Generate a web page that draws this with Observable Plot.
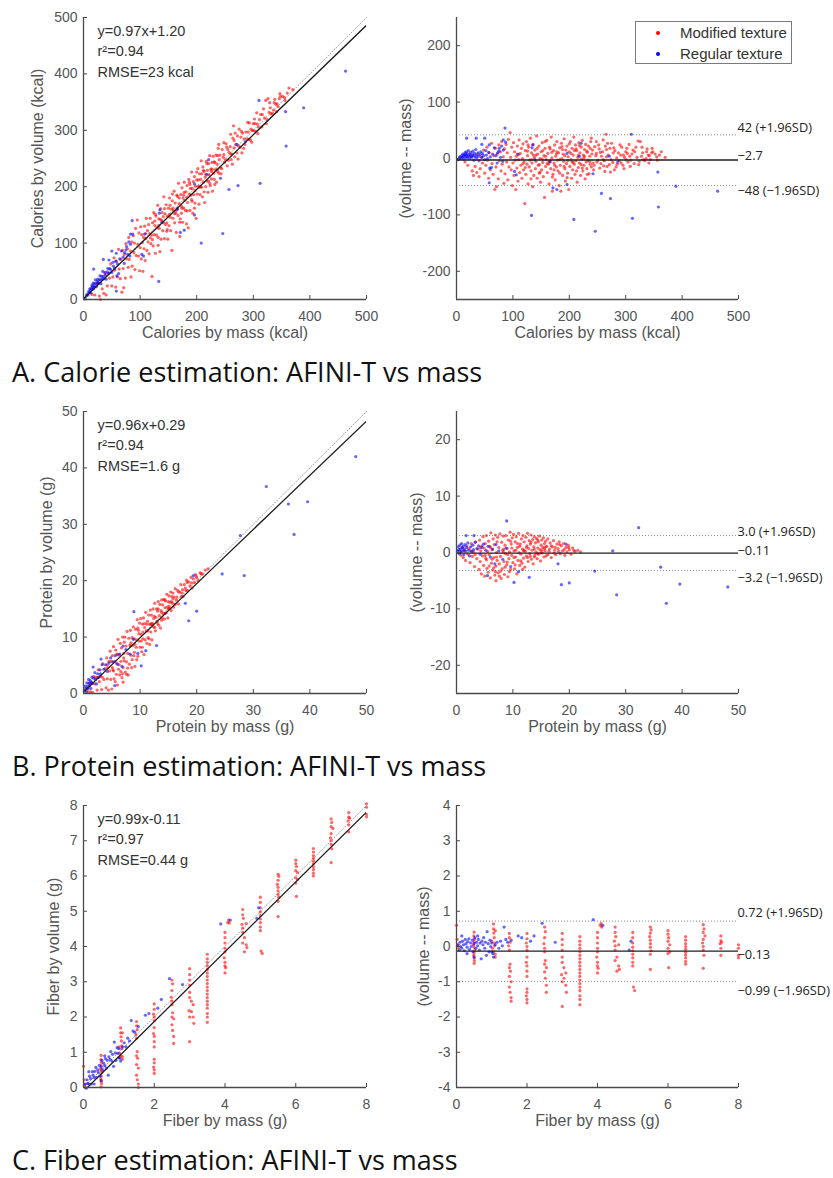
<!DOCTYPE html>
<html><head><meta charset="utf-8">
<script src="https://cdn.jsdelivr.net/npm/d3@7"></script>
<script src="https://cdn.jsdelivr.net/npm/@observablehq/plot@0.6"></script>
<style>
body{margin:0;background:#fff;width:833px;height:1178px;position:relative;overflow:hidden}
.panel{position:absolute}
.panel svg{overflow:visible;display:block}
.title{position:absolute;left:12px;font-family:"Open Sans",sans-serif;font-size:27px;line-height:32px;color:#111;white-space:nowrap}
.legend{position:absolute;border:1px solid #7a7a7a;background:#fff;font-family:"Liberation Sans",Arial,sans-serif;font-size:15px;color:#333}
.legend .row{position:absolute;left:0;height:20px;line-height:20px;white-space:nowrap}
.legend .sw{position:absolute;left:20px;top:8px;width:4px;height:4px;border-radius:50%}
.legend .lab{position:absolute;left:44px}
</style></head><body>
<script>
// ---------- DATA ----------
// Calories: [mass kcal, volume - mass kcal]
const calModified = [
[15,-6],[20,-12],[24,4],[28,-22],[30,-30],[33,-14],[36,-25],[38,8],[40,-32],[42,-18],[44,2],[46,-8],[48,15],[50,-26],[52,-12],[54,20],[55,-3],[57,-35],[58,10],[60,-20],
[62,27],[63,-9],[65,-28],[66,5],[68,-55],[69,18],[70,-15],[71,-50],[72,8],[74,-36],[75,24],[76,-4],[78,12],[79,-22],[80,30],[81,-10],[83,3],[84,-44],[85,17],[86,-27],[88,25],[89,-6],[90,10],[91,-38],[92,34],[93,-15],[95,46],[96,2],[97,-20],[98,20],[99,-48],
[100,-8],[101,28],[102,-30],[103,12],[105,-55],[106,4],[107,-17],[108,22],[109,-40],[110,-2],[111,33],[112,-25],[113,9],[114,-12],[115,18],[116,-35],[117,0],[118,26],[119,-20],[120,-6],[121,-80],[122,14],[123,-28],[124,30],[125,-10],[126,5],[127,-45],[128,20],[129,-15],[130,-3],[131,36],[132,-22],[133,10],[134,-8],[135,-50],[136,25],[137,-30],[138,2],[139,15],[140,-18],[141,-5],[142,40],[143,-35],[144,8],[145,-12],[146,22],[147,-26],[148,0],[149,-42],[150,12],
[151,-20],[152,28],[153,-7],[154,-32],[155,5],[156,-69],[157,18],[158,-14],[159,-2],[160,32],[161,-25],[162,9],[163,-10],[164,-45],[165,20],[166,-4],[167,-18],[168,38],[169,1],[170,-58],[171,-28],[172,14],[173,-8],[174,24],[175,-38],[176,4],[177,-15],[178,30],[179,-3],[180,-22],[181,10],[182,-48],[183,19],[184,-12],[185,-58],[186,27],[187,0],[188,-30],[189,8],[190,-5],[191,35],[192,-18],[193,-40],[194,15],[195,-9],[196,22],[197,-26],[198,3],[199,-55],[200,12],
[201,-14],[202,30],[203,-2],[204,-35],[205,18],[206,-20],[207,6],[208,38],[209,-10],[210,-28],[211,24],[212,-4],[213,14],[214,-42],[215,2],[216,-16],[217,28],[218,-8],[219,10],[220,-30],[221,20],[222,-1],[223,32],[224,-22],[225,6],[226,-12],[227,16],[228,-36],[229,25],[230,-6],[231,-18],[232,11],[233,-3],[234,22],[235,-27],[236,4],[237,-10],[238,30],[239,-15],[240,8],
[104,-3],[110,7],[118,-9],[126,13],[133,-2],[141,6],[147,-11],[153,14],[158,4],[164,-6],[169,11],[173,-20],[177,8],[183,-2],[188,16],[192,5],[197,-4],[203,9],[207,-7],[212,17],[216,6],[221,-11],[226,1],[231,13],[236,-5],[241,15],[244,-12],[247,5],[251,-3],[253,17],[256,-9],[259,12],[262,-4],[264,22],[267,-14],[269,6],[272,18],[274,-2],[277,-7],[281,14],[283,-15],[287,10],[289,-4],[293,20],[295,-12],[298,2],[300,12],[304,-6],[306,25],[309,-3],[311,8],[315,-9],[318,20],[320,2],[324,-5],[326,30],[330,10],[334,-4],[338,17],[342,5],[344,-2],[348,12],[352,8],[355,3],[360,6],
[239,36],[248,30],[260,33],[265,43],[275,27],[290,24],[302,18],[313,15],[322,31],[337,12],[346,10],[370,2],[242,-8],[254,-17],[263,-23],[271,-11],[280,-20],[292,-8],[301,-2],[248,9],[257,4],[266,16],[278,10],[284,1],[296,6],[307,4],[328,4],[331,-2],[340,6],[245,21],[252,24],[268,27],[260,-2],
[122,-16],[127,24],[132,-36],[136,6],[143,18],[148,-24],[152,-1],[157,30],[161,-9],[166,17],[170,-33],[174,-12],[178,12],[183,-26],[187,21],[191,-14],[196,-34],[200,26],[205,-6],[209,14],[213,-22],[218,23],[223,-17],[227,4],[232,-28],[237,18],[243,-20],[249,-6],[255,11],[261,-13],[266,3],[273,-24],[279,19],[285,-10],[291,6],[297,-18],[303,9],[308,-14],[316,12],[323,-11],[329,20],[336,0],[341,-8],[347,18],[356,-3],[363,12]
];
const calRegular = [
[3,-2],[5,1],[6,3],[8,0],[9,5],[10,2],[11,8],[12,4],[13,-1],[14,6],[15,10],[15,3],[16,7],[17,12],[18,1],[18,5],[19,9],[20,3],[21,14],[22,6],[23,0],[24,8],[25,11],[26,4],[27,2],[28,7],[29,13],[30,5],[31,-3],[32,9],[33,3],[34,16],[35,6],[36,1],[38,10],[39,4],[40,-4],[42,7],[43,12],[45,2],[46,9],[48,5],[50,-2],[52,14],[53,6],[55,0],[57,11],[60,3],[62,-16],[64,8],[67,19],[70,5],[72,-8],[75,13],[78,2],[80,22],[82,-5],
[18,36],[35,36],[50,36],[45,25],[58,24],[59,-17],[58,-43],[86,54],[83,33],[87,29],[83,15],[73,10],[76,18],[103,-23],[106,-29],[108,8],[133,-101],[134,19],[135,24],[139,-2],[166,-6],[171,-52],[178,-55],[196,-46],[196,9],[208,-108],[218,4],[221,27],[242,-27],[246,-129],[257,-62],[273,-71],[271,4],[286,-6],[310,43],[312,-106],[357,-24],[358,-86],[389,-49],[463,-58]
];
const calTicks = [0, 100, 200, 300, 400, 500];
const calDiffTicks = [-200, -100, 0, 100, 200];
const calFit = {slope: 0.97, intercept: 1.20};
const calStats = ["y=0.97x+1.20", "r²=0.94", "RMSE=23 kcal"];
const calLimits = {upper: 42, mean: -2.7, lower: -48};
const calLimitLabels = ["42 (+1.96SD)", "−2.7", "−48 (−1.96SD)"];

// Protein: [mass g, volume - mass g]
const proModified = [
[0.6,0.2],[0.8,-0.5],[1.0,0.9],[1.2,-0.9],[1.4,0.4],[1.6,-1.4],[1.8,1.2],[2.0,-0.3],[2.2,0.7],[2.4,-1.8],[2.6,1.6],[2.8,-0.7],[3.0,0.1],[3.2,-2.5],[3.4,1.9],[3.6,-1.1],[3.8,0.6],[4.0,-3.0],
[4.1,2.2],[4.2,-1.6],[4.3,0.3],[4.4,-3.8],[4.5,1.2],[4.6,-0.6],[4.7,2.8],[4.8,-2.3],[4.9,0.8],[5.0,-4.2],[5.1,1.6],[5.2,-1.0],[5.3,3.0],[5.4,-2.8],[5.5,0.2],[5.6,-3.5],[5.7,2.0],[5.8,-0.4],[5.9,1.1],[6.0,-4.5],[6.1,3.5],[6.2,-1.9],[6.3,0.5],[6.4,-3.1],[6.5,2.4],[6.6,-0.9],[6.7,1.4],[6.8,-4.0],[6.9,3.1],[7.0,-2.4],[7.0,-5.0],[7.1,0.0],[7.2,-1.4],[7.3,2.7],[7.4,-3.6],[7.5,0.9],[7.6,-2.0],[7.7,3.3],[7.8,-0.7],[7.9,-4.6],[8.0,1.8],[8.1,-2.9],[8.2,0.4],[8.3,2.9],[8.4,-1.6],[8.5,-3.9],[8.6,1.3],[8.7,-0.2],[8.8,3.0],[8.9,-2.2],[9.0,0.7],[9.1,-4.3],[9.2,2.2],[9.3,-1.1],[9.4,0.1],[9.5,3.6],[9.6,-3.0],[9.7,1.5],[9.8,-0.5],[9.9,2.6],
[10.0,-1.8],[10.1,3.2],[10.2,0.3],[10.3,-2.9],[10.4,1.9],[10.5,-0.8],[10.6,2.8],[10.7,-3.8],[10.8,0.9],[10.9,-1.4],[11.0,3.4],[11.1,0.0],[11.2,-2.3],[11.3,1.5],[11.4,-0.3],[11.5,2.4],[11.6,-1.9],[11.7,0.6],[11.8,3.0],[11.9,-1.0],[12.0,1.9],[12.1,-2.6],[12.2,0.2],[12.3,2.7],[12.4,-0.6],[12.5,1.2],[12.6,3.4],[12.7,-1.6],[12.8,0.7],[12.9,2.1],[13.0,-0.2],[13.1,1.5],[13.2,3.1],[13.3,-1.2],[13.4,0.4],[13.5,2.3],[13.6,-2.0],[13.7,1.0],[13.8,2.8],[13.9,-0.5],[14.0,1.7],[14.1,0.1],[14.2,2.5],[14.3,-1.1],[14.4,0.8],[14.5,1.9],[14.6,-0.3],[14.7,2.9],[14.8,0.5],[14.9,-1.5],[15.0,1.3],[15.1,2.2],[15.2,-0.1],[15.3,0.9],[15.4,2.6],[15.5,-0.8],[15.6,1.6],[15.7,0.3],[15.8,2.0],[15.9,-0.6],
[16.0,1.1],[16.2,2.4],[16.4,0.2],[16.6,1.7],[16.8,-0.9],[17.0,1.0],[17.2,2.1],[17.4,0.4],[17.6,-0.4],[17.8,1.5],[18.0,0.7],[18.2,1.9],[18.4,-0.2],[18.6,1.2],[18.8,0.3],[19.0,1.6],[19.2,-0.5],[19.4,0.9],[19.6,0.1],[19.8,1.3],[20.0,0.5],[20.3,-0.3],[20.6,0.8],[21.0,0.2],[21.5,0.4],[22.0,0.1],
[8.3,0.1],[9.1,-0.4],[9.8,0.8],[10.5,0.4],[11.2,1.1],[11.9,0.3],[12.4,0.9],[13.1,-0.7],[13.8,0.6],[14.4,-0.2],[15.1,0.4],[15.8,1.0],[16.5,0.6],[17.3,-0.1],[18.1,0.2],[6.3,-1.2],[7.1,-0.8],[5.1,-0.5],[4.2,0.9],[3.3,-0.4],[2.5,0.3],
[5.3,-1.3],[6.0,0.9],[6.6,-2.7],[7.2,1.9],[7.8,-3.3],[8.4,0.6],[9.0,-1.7],[9.6,2.0],[10.2,-0.9],[10.8,1.6],[11.4,-1.5],[12.0,0.4],[12.6,-0.9],[13.2,1.8],[13.8,-0.8],[14.4,2.2],[15.0,0.0],[15.6,0.7],[16.2,-0.4],[16.8,1.2],[17.5,0.9],[18.3,1.4],[19.1,0.5],[19.9,0.9],[20.8,0.4],[5.8,-2.4],[6.9,-3.4],[7.6,-4.2],[8.6,-2.6],[9.4,-3.4],[10.4,-2.2],[11.7,-3.0]
];
const proRegular = [
[0.2,0.3],[0.3,1.0],[0.4,0.5],[0.5,-0.2],[0.6,1.3],[0.7,0.6],[0.8,0.1],[0.9,1.6],[1.0,0.8],[1.1,0.3],[1.2,1.1],[1.3,-0.4],[1.4,0.6],[1.5,1.4],[1.6,0.2],[1.8,0.9],[2.0,1.7],[2.1,0.4],[2.3,-0.6],[2.5,1.0],[2.7,0.2],[2.9,1.3],[3.0,0.5],[3.3,1.8],[3.6,0.7],[3.9,1.2],[4.2,-0.3],[4.5,0.9],[4.8,1.5],[5.2,0.4],[5.6,1.1],[6.0,-0.8],[6.4,0.6],[7.0,1.4],[7.5,0.3],[8.2,-1.2],[8.8,0.8],
[1.7,3.0],[3.1,3.0],[8.9,5.6],[32.3,4.4],[27.7,0.3],[19.4,1.5],[18.0,-2.0],[10.2,-5.3],[9.6,-2.5],[11.0,-3.4],[12.9,-4.4],[5.5,-4.1],[6.8,-2.0],[18.6,-5.7],[20.0,-5.4],[24.5,-3.3],[28.4,-7.5],[36.2,-2.6],[37.2,-9.0],[39.6,-5.6],[48.1,-6.1]
];
const proTicks = [0, 10, 20, 30, 40, 50];
const proDiffTicks = [-20, -10, 0, 10, 20];
const proFit = {slope: 0.96, intercept: 0.29};
const proStats = ["y=0.96x+0.29", "r²=0.94", "RMSE=1.6 g"];
const proLimits = {upper: 3.0, mean: -0.11, lower: -3.2};
const proLimitLabels = ["3.0 (+1.96SD)", "−0.11", "−3.2 (−1.96SD)"];

// Fiber: [mass g, volume - mass g]
const fibModified = [
[0.0,0.6],[0.02,0.2],[0.03,0.05],[0.05,-0.05],
[0.5,0.41],[0.49,0.3],[0.51,0.2],[0.5,0.12],[0.48,0.05],[0.5,-0.02],[0.52,-0.1],[0.5,-0.18],[0.49,-0.25],[0.5,-0.32],[0.51,-0.4],[0.5,-0.48],
[1.0,0.15],[1.02,-0.05],[1.05,0.64],[1.05,0.5],[1.06,0.38],[1.07,0.25],[1.08,0.1],[1.05,-0.15],[1.1,-0.22],[1.1,-0.3],[1.08,0.02],[1.1,0.45],
[1.5,0.37],[1.5,0.25],[1.52,0.12],[1.48,0.02],[1.5,-0.1],[1.52,-0.5],[1.5,-0.6],[1.53,-0.7],[1.5,-0.85],[1.55,-1.0],[1.5,-1.15],[1.52,-1.3],[1.55,-1.45],[1.55,-1.55],
[2.0,0.37],[2.0,0.22],[1.98,0.1],[2.0,0.0],[2.0,-0.1],[2.0,-0.3],[1.98,-0.45],[2.0,-0.55],[2.0,-0.7],[2.0,-0.85],[2.0,-1.2],[2.0,-1.3],[1.98,-1.4],[2.0,-1.5],[2.0,-1.6],
[2.5,0.55],[2.52,0.42],[2.5,0.25],[2.48,0.08],[2.5,-0.05],[2.5,-0.15],[2.52,-0.4],[2.5,-0.5],[2.55,-0.6],[2.5,-0.72],[2.52,-0.9],[2.55,-1.1],[2.55,-1.3],
[3.0,0.37],[3.0,0.2],[3.0,0.05],[3.0,-0.1],[3.0,-0.3],[3.0,-0.45],[2.98,-0.8],[3.05,-0.9],[3.0,-1.0],[3.1,-0.75],[3.1,-1.1],[3.12,-1.3],[3.0,-1.7],[3.05,-0.6],
[3.5,0.28],[3.5,0.15],[3.5,0.05],[3.5,-0.05],[3.5,-0.15],[3.5,-0.25],[3.5,-0.35],[3.5,-0.45],[3.5,-0.55],[3.5,-0.65],[3.5,-0.75],[3.5,-0.85],[3.5,-0.95],[3.5,-1.05],[3.5,-1.15],[3.5,-1.25],[3.5,-1.4],[3.5,-1.5],[3.5,-1.65],
[4.0,0.4],[4.0,0.25],[4.0,0.1],[4.0,-0.05],[4.0,-0.15],[3.98,-0.3],[4.0,-0.45],[4.0,-0.55],[4.02,-0.62],[4.0,-0.75],[4.08,0.6],[4.1,0.65],[4.12,0.55],
[4.5,0.55],[4.5,0.4],[4.52,0.28],[4.48,0.15],[4.5,0.02],[4.5,-0.1],[4.55,-0.3],[4.5,-0.4],[4.6,-0.55],[4.62,-0.65],[4.55,-0.7],[4.6,0.05],
[5.0,0.4],[5.0,0.25],[5.0,0.1],[5.0,-0.02],[5.0,-0.12],[5.0,-0.22],[5.0,-0.32],[5.0,-0.45],[5.0,-0.55],[5.02,-1.15],[5.05,-1.25],
[5.5,0.55],[5.52,0.47],[5.5,0.38],[5.48,0.28],[5.5,0.18],[5.5,0.08],[5.5,-0.02],[5.52,-0.12],[5.5,-0.22],[5.5,-0.65],
[6.0,0.45],[6.0,0.35],[6.02,0.25],[6.0,0.15],[6.05,0.05],[6.0,-0.05],[6.05,-0.15],[6.0,-0.2],[6.02,-0.6],
[6.5,0.28],[6.5,0.18],[6.5,0.08],[6.5,0.0],[6.5,-0.08],[6.5,-0.16],[6.5,-0.24],[6.5,-0.32],[6.5,-0.42],[6.5,-0.5],
[7.0,0.62],[7.02,0.5],[7.0,0.4],[7.05,0.3],[7.0,0.2],[6.98,0.1],[7.0,0.0],[7.0,-0.1],[7.02,-0.25],[7.0,-0.62],
[7.5,0.3],[7.5,0.17],[7.52,0.12],[7.48,0.08],[7.5,-0.05],[7.5,-0.25],
[8.0,0.05],[8.0,-0.05],[8.0,-0.25],[8.0,-0.32]
];
const fibRegular = [
[0.05,0.05],[0.08,-0.1],[0.1,0.12],[0.12,0.0],[0.15,-0.05],[0.17,0.15],[0.2,0.05],[0.22,-0.12],[0.25,0.2],[0.27,0.08],[0.3,-0.02],[0.32,0.14],[0.35,0.22],[0.37,-0.08],[0.4,0.1],[0.42,0.0],[0.45,0.18],[0.47,-0.15],[0.5,0.08],[0.52,0.25],[0.55,-0.05],[0.57,0.12],[0.6,0.02],[0.62,0.2],[0.65,-0.1],[0.67,0.1],[0.7,-0.35],[0.72,0.15],[0.75,0.05],[0.77,0.25],[0.8,-0.05],[0.82,0.12],[0.85,-0.25],[0.87,0.42],[0.9,0.08],[0.92,-0.15],[0.95,0.18],[0.97,0.0],[1.0,0.1],[1.03,-0.2],[1.05,-0.3],[1.1,0.05],[1.15,0.12],[1.2,-0.05],[1.25,0.15],[1.3,0.02],[1.35,0.55],[1.4,0.2],[1.45,0.12],[1.55,0.18],[1.75,0.3],[1.85,0.25],[2.1,0.15],[2.2,0.3],[2.43,0.66],[2.8,0.12],[3.88,0.76],[4.15,0.6],[4.95,0.15],[4.9,-0.1],[1.0,-0.15],[0.15,0.3],[0.3,-0.2],[0.5,-0.3],[0.6,0.3]
];
const fibTicks = [0, 2, 4, 6, 8];
const fibYTicks = [0, 1, 2, 3, 4, 5, 6, 7, 8];
const fibDiffTicks = [-4, -3, -2, -1, 0, 1, 2, 3, 4];
const fibFit = {slope: 0.99, intercept: -0.11};
const fibStats = ["y=0.99x-0.11", "r²=0.97", "RMSE=0.44 g"];
const fibLimits = {upper: 0.72, mean: -0.13, lower: -0.99};
const fibLimitLabels = ["0.72 (+1.96SD)", "−0.13", "−0.99 (−1.96SD)"];

const seriesNames = ["Modified texture", "Regular texture"];
const seriesColors = ["#ff0000", "#0000ff"];

// ---------- DRAWING ----------
const SANS = "'Liberation Sans', Arial, Helvetica, sans-serif";
const AX = "#4a4a4a", TXT = "#555555";
const DOT_R = 1.6, DOT_OP = 0.6;

const panels = [
  {top: 0, title: "A. Calorie estimation: AFINI-T vs mass", domain: [0, 500], xTicks: calTicks, yTicks: calTicks,
   diffDomain: [-250, 250], diffTicks: calDiffTicks, mod: calModified, reg: calRegular, fit: calFit, stats: calStats,
   limits: calLimits, limitLabels: calLimitLabels, baDy: [-6.5, -4.5, 5.5],
   xLabel: "Calories by mass (kcal)", yLabel: "Calories by volume (kcal)", yLabelDx: -46, diffLabelDx: -51, legend: true},
  {top: 394, title: "B. Protein estimation: AFINI-T vs mass", domain: [0, 50], xTicks: proTicks, yTicks: proTicks,
   diffDomain: [-25, 25], diffTicks: proDiffTicks, mod: proModified, reg: proRegular, fit: proFit, stats: proStats,
   limits: proLimits, limitLabels: proLimitLabels, baDy: [-4, -2.5, 7],
   xLabel: "Protein by mass (g)", yLabel: "Protein by volume (g)", yLabelDx: -37, diffLabelDx: -40},
  {top: 788, title: "C. Fiber estimation: AFINI-T vs mass", domain: [0, 8], xTicks: fibTicks, yTicks: fibYTicks,
   diffDomain: [-4, 4], diffTicks: fibDiffTicks, mod: fibModified, reg: fibRegular, fit: fibFit, stats: fibStats,
   limits: fibLimits, limitLabels: fibLimitLabels, baDy: [-8, 3.5, 9.5],
   xLabel: "Fiber by mass (g)", yLabel: "Fiber by volume (g)", yLabelDx: -30, diffLabelDx: -33}
];

function toRows(arr, group) {
  return arr.map(([m, d]) => ({group, mass: m, diff: d, vol: m + d}));
}

function axisOpts(extra) {
  return Object.assign({tickSize: -4, fontSize: 14, stroke: AX, fill: TXT, label: null, tickFormat: d => String(d), fontFamily: SANS}, extra);
}

function leftPlot(p) {
  const rows = [...toRows(p.mod, 0), ...toRows(p.reg, 1)];
  const line = p.domain.map(v => ({x: v, y: p.fit.slope * v + p.fit.intercept}));
  const ident = p.domain.map(v => ({x: v, y: v}));
  return Plot.plot({
    width: 413, height: 360, marginLeft: 83, marginRight: 47, marginTop: 17, marginBottom: 61,
    style: {background: "transparent", overflow: "visible", fontFamily: SANS},
    x: {domain: p.domain, label: null}, y: {domain: p.domain, label: null},
    marks: [
      Plot.line(ident, {x: "x", y: "y", stroke: "#9c9c9c", strokeWidth: 1, strokeDasharray: "1,2"}),
      Plot.dot(rows.filter(d => d.group === 0), {x: "mass", y: "vol", r: DOT_R, fill: seriesColors[0], fillOpacity: DOT_OP}),
      Plot.dot(rows.filter(d => d.group === 1), {x: "mass", y: "vol", r: DOT_R, fill: seriesColors[1], fillOpacity: DOT_OP}),
      Plot.line(line, {x: "x", y: "y", stroke: "#1e1e1e", strokeWidth: 1.3, clip: true}),
      Plot.ruleX([p.domain[0]], {stroke: AX, strokeWidth: 1.3}),
      Plot.ruleY([p.domain[0]], {stroke: AX, strokeWidth: 1.3}),
      Plot.axisX(p.xTicks, axisOpts({tickPadding: 16})),
      Plot.axisY(p.yTicks, axisOpts({tickPadding: 10})),
      Plot.text([p.xLabel], {text: d => d, frameAnchor: "bottom", dy: 38, fontSize: 16, fill: TXT}),
      Plot.text([p.yLabel], {text: d => d, frameAnchor: "left", textAnchor: "middle", rotate: -90, dx: p.yLabelDx, fontSize: 16, fill: TXT}),
      Plot.text([p.stats.join("\n")], {text: d => d, frameAnchor: "top-left", textAnchor: "start", lineAnchor: "top",
        dx: 14, dy: 4, lineHeight: 1.41, fontSize: 14.5, fill: "#333"})
    ]
  });
}

function rightPlot(p) {
  const rows = [...toRows(p.mod, 0), ...toRows(p.reg, 1)];
  const xmax = p.domain[1];
  const L = p.limits;
  const labFont = {fontFamily: "'Open Sans', sans-serif", fontSize: 12.8, fill: "#222", textAnchor: "start", dx: -1};
  return Plot.plot({
    width: 420, height: 360, marginLeft: 43, marginRight: 95, marginTop: 17, marginBottom: 61,
    style: {background: "transparent", overflow: "visible", fontFamily: SANS},
    x: {domain: p.domain, label: null}, y: {domain: p.diffDomain, label: null},
    marks: [
      Plot.ruleY([L.upper, L.lower], {x1: p.domain[0], x2: xmax, stroke: "#8a8a8a", strokeWidth: 1, strokeDasharray: "1,2"}),
      Plot.dot(rows.filter(d => d.group === 0), {x: "mass", y: "diff", r: DOT_R, fill: seriesColors[0], fillOpacity: DOT_OP}),
      Plot.dot(rows.filter(d => d.group === 1), {x: "mass", y: "diff", r: DOT_R, fill: seriesColors[1], fillOpacity: DOT_OP}),
      Plot.ruleY([L.mean], {x1: p.domain[0], x2: xmax, stroke: "#1e1e1e", strokeWidth: 1.3}),
      Plot.ruleX([p.domain[0]], {stroke: AX, strokeWidth: 1.3}),
      Plot.ruleY([p.diffDomain[0]], {stroke: AX, strokeWidth: 1.3}),
      Plot.axisX(p.xTicks, axisOpts({tickPadding: 16})),
      Plot.axisY(p.diffTicks, axisOpts({tickPadding: 10})),
      Plot.text([p.xLabel], {text: d => d, frameAnchor: "bottom", dy: 38, fontSize: 16, fill: TXT}),
      Plot.text(["(volume -- mass)"], {text: d => d, frameAnchor: "left", textAnchor: "middle", rotate: -90, dx: p.diffLabelDx, fontSize: 16, fill: TXT}),
      Plot.text([L.upper], {x: () => xmax, y: d => d, text: () => p.limitLabels[0], dy: p.baDy[0], ...labFont}),
      Plot.text([L.mean], {x: () => xmax, y: d => d, text: () => p.limitLabels[1], dy: p.baDy[1], ...labFont}),
      Plot.text([L.lower], {x: () => xmax, y: d => d, text: () => p.limitLabels[2], dy: p.baDy[2], ...labFont})
    ]
  });
}

for (const p of panels) {
  const l = document.createElement("div");
  l.className = "panel"; l.style.left = "0px"; l.style.top = p.top + "px"; l.style.width = "413px";
  l.appendChild(leftPlot(p));
  document.body.appendChild(l);
  const r = document.createElement("div");
  r.className = "panel"; r.style.left = "413px"; r.style.top = p.top + "px"; r.style.width = "420px";
  r.appendChild(rightPlot(p));
  document.body.appendChild(r);
  const t = document.createElement("div");
  t.className = "title"; t.style.top = (p.top + 356) + "px"; t.textContent = p.title;
  document.body.appendChild(t);
  if (p.legend) {
    const lg = document.createElement("div");
    lg.className = "legend";
    Object.assign(lg.style, {left: "635px", top: (p.top + 21) + "px", width: "155px", height: "41px"});
    seriesNames.forEach((name, i) => {
      const row = document.createElement("div");
      row.className = "row"; row.style.top = (1 + i * 21) + "px"; row.style.width = "155px";
      const sw = document.createElement("span"); sw.className = "sw"; sw.style.background = seriesColors[i];
      const lab = document.createElement("span"); lab.className = "lab"; lab.textContent = name;
      row.appendChild(sw); row.appendChild(lab); lg.appendChild(row);
    });
    document.body.appendChild(lg);
  }
}
</script>
</body></html>
